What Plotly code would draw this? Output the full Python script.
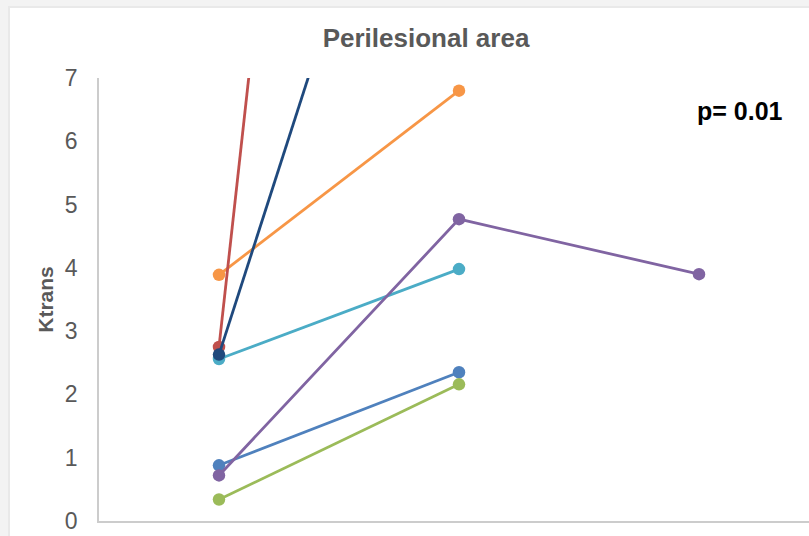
import plotly.graph_objects as go

# Ktrans per lesion at each time point (None = no measurement)
timepoints = ["T0", "T1", "T2"]
series_names = ["Lesion 1", "Lesion 2", "Lesion 3", "Lesion 4", "Lesion 5", "Lesion 6", "Lesion 7"]
blue_vals = [0.88, 2.35, None]
green_vals = [0.34, 2.16, None]
cyan_vals = [2.56, 3.98, None]
orange_vals = [3.89, 6.80, None]
purple_vals = [0.72, 4.77, 3.90]
red_vals = [2.75, 37.1, None]
navy_vals = [2.63, 14.4, None]

y_ticks = [0, 1, 2, 3, 4, 5, 6, 7]
p_label = "p= 0.01"

series = [
    (series_names[0], blue_vals, "#4F81BD"),
    (series_names[1], green_vals, "#9BBB59"),
    (series_names[2], cyan_vals, "#4BACC6"),
    (series_names[3], orange_vals, "#F79646"),
    (series_names[4], purple_vals, "#8064A2"),
    (series_names[5], red_vals, "#C0504D"),
    (series_names[6], navy_vals, "#1F497D"),
]

W, H = 809, 536
L, T, B = 99, 78, 15
PW, PH = W - L, H - T - B


def px_x(p):
    return (p - L) / PW


def px_y(p):
    return (H - B - p) / PH


fig = go.Figure()
for name, vals, color in series:
    fig.add_trace(go.Scatter(
        x=[0, 1, 2], y=vals, name=name, mode="lines+markers",
        line=dict(color=color, width=2.8),
        marker=dict(color=color, size=12.5),
        connectgaps=False, showlegend=False,
    ))

# card with a soft edge on the grey page
shapes = [
    dict(type="rect", xref="paper", yref="paper", layer="below",
         x0=px_x(8), x1=px_x(W + 20), y0=px_y(H + 20), y1=px_y(6),
         fillcolor="#e9e9e9", line=dict(width=0)),
    dict(type="rect", xref="paper", yref="paper", layer="below",
         x0=px_x(10), x1=px_x(W + 20), y0=px_y(H + 20), y1=px_y(8),
         fillcolor="#ffffff", line=dict(width=0)),
]

fig.update_layout(
    width=W, height=H,
    margin=dict(l=L, r=0, t=T, b=B, pad=0),
    paper_bgcolor="#f3f3f3",
    plot_bgcolor="#ffffff",
    shapes=shapes,
    font=dict(family="Liberation Sans, Arial, sans-serif", color="#595959"),
    title=dict(text="<b>Perilesional area</b>", xref="container", x=426 / W,
               xanchor="center", y=1 - 38 / H, yanchor="middle",
               font=dict(size=26, color="#595959")),
    xaxis=dict(range=[-0.5, -0.5 + PW / 240], showgrid=False, zeroline=False,
               showticklabels=False, ticks="", showline=True,
               linecolor="#cccccc", linewidth=1.5),
    yaxis=dict(range=[0, 7], tickvals=y_ticks, showgrid=False, zeroline=False,
               showline=True, linecolor="#cccccc", linewidth=1.5, ticks="",
               ticklabelstandoff=15,
               tickfont=dict(size=23, color="#595959"),
               title=dict(text="<b>Ktrans</b>", standoff=6,
                          font=dict(size=21, color="#595959"))),
    annotations=[dict(text="<b>" + p_label + "</b>", xref="paper", yref="paper",
                      x=px_x(740), y=px_y(111), xanchor="center", yanchor="middle",
                      showarrow=False, font=dict(size=25, color="#000000"))],
)

fig.write_html("out.html")
